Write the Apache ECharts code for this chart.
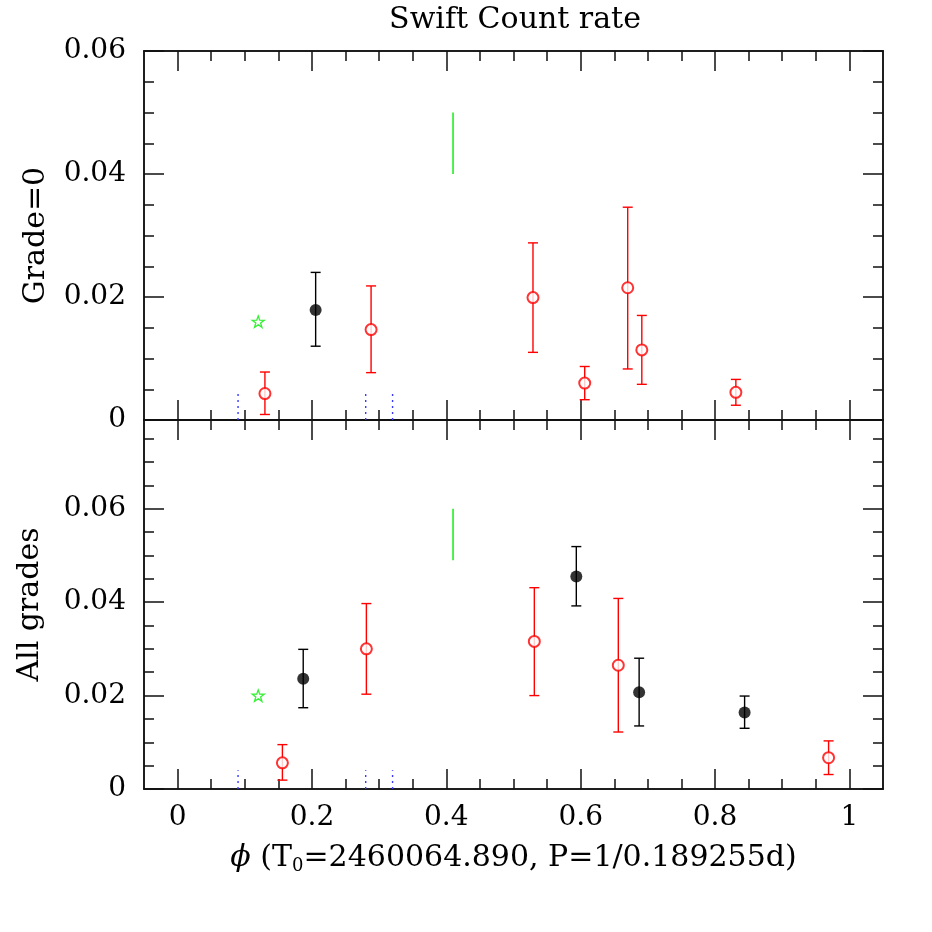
<!DOCTYPE html>
<html>
<head>
<meta charset="utf-8">
<script src="https://cdn.jsdelivr.net/npm/echarts@6.0.0/dist/echarts.min.js"></script>
<style>html,body{margin:0;padding:0;background:#fff;}#c{width:932px;height:932px;}</style>
</head>
<body>
<div id="c"></div>
<script>
// ---------------- data ----------------
const xMajorTicks = [0, 0.2, 0.4, 0.6, 0.8, 1];
const xMinorTicks = [0, 0.05, 0.1, 0.15, 0.2, 0.25, 0.3, 0.35, 0.4, 0.45, 0.5, 0.55, 0.6, 0.65, 0.7, 0.75, 0.8, 0.85, 0.9, 0.95, 1];
const yMajorTicks = [0, 0.02, 0.04, 0.06];
const yMinorTicksTop = [0, 0.005, 0.01, 0.015, 0.02, 0.025, 0.03, 0.035, 0.04, 0.045, 0.05, 0.055, 0.06];
const yMinorTicksBot = [0, 0.005, 0.01, 0.015, 0.02, 0.025, 0.03, 0.035, 0.04, 0.045, 0.05, 0.055, 0.06, 0.065, 0.07, 0.075];

// Top panel (Grade=0)
const g0RedX  = [0.130, 0.288, 0.529, 0.606, 0.670, 0.691, 0.831];
const g0RedY  = [0.0043, 0.0147, 0.0199, 0.0060, 0.0215, 0.0114, 0.0045];
const g0RedLo = [0.0009, 0.0077, 0.0110, 0.0033, 0.0083, 0.0058, 0.0024];
const g0RedHi = [0.0078, 0.0218, 0.0288, 0.0087, 0.0346, 0.0170, 0.0066];
const g0BlkX  = [0.2055];
const g0BlkY  = [0.0179];
const g0BlkLo = [0.0120];
const g0BlkHi = [0.0240];
const g0Star  = [0.12, 0.016];
const g0Green = [0.41, 0.040, 0.050];
const g0BlueX = [0.09, 0.28, 0.32];
const g0BlueH = 0.0043;

// Bottom panel (All grades)
const allRedX  = [0.156, 0.281, 0.531, 0.656, 0.969];
const allRedY  = [0.0056, 0.0300, 0.0316, 0.0265, 0.0067];
const allRedLo = [0.0019, 0.0203, 0.0200, 0.0122, 0.0031];
const allRedHi = [0.0095, 0.0397, 0.0431, 0.0408, 0.0103];
const allBlkX  = [0.187, 0.5935, 0.687, 0.844];
const allBlkY  = [0.0236, 0.0455, 0.0207, 0.0164];
const allBlkLo = [0.0174, 0.0392, 0.0135, 0.0130];
const allBlkHi = [0.0299, 0.0519, 0.0280, 0.0199];
const allStar  = [0.12, 0.020];
const allGreen = [0.41, 0.049, 0.060];
const allBlueX = [0.09, 0.28, 0.32];
const allBlueH = 0.0040;

const X_MIN = -0.05, X_MAX = 1.05;
const Y0_MAX = 0.06, Y1_MAX = 0.079;

// ---------------- styles ----------------
const FONT = 'DejaVu Serif';
const AX = '#111';
const AXW = 1.5;
const RED = '#ff0000', BLK = '#000000', GRN = '#00ee00', BLU = '#3a3aff';

function xAx(grid, pos, ticks, len, extra) {
  return Object.assign({
    type: 'value', gridIndex: grid, position: pos, min: X_MIN, max: X_MAX,
    axisLine: { show: true, onZero: false, lineStyle: { color: AX, width: AXW } },
    axisTick: { show: true, inside: true, length: len, customValues: ticks, lineStyle: { color: AX, width: AXW } },
    axisLabel: { show: false },
    splitLine: { show: false }
  }, extra || {});
}
function yAx(grid, pos, max, ticks, len, extra) {
  return Object.assign({
    type: 'value', gridIndex: grid, position: pos, min: 0, max: max,
    axisLine: { show: true, onZero: false, lineStyle: { color: AX, width: AXW } },
    axisTick: { show: true, inside: true, length: len, customValues: ticks, lineStyle: { color: AX, width: AXW } },
    axisLabel: { show: false },
    splitLine: { show: false }
  }, extra || {});
}

const xAxes = [
  xAx(0, 'bottom', xMinorTicks, 10),
  xAx(0, 'bottom', xMajorTicks, 20),
  xAx(0, 'top', xMinorTicks, 10),
  xAx(0, 'top', xMajorTicks, 20),
  xAx(1, 'bottom', xMinorTicks, 10),
  xAx(1, 'bottom', xMajorTicks, 20, {
    axisLabel: { show: true, customValues: xMajorTicks, margin: 15, fontFamily: FONT, fontSize: 28, color: '#000' },
    name: '{phi|ϕ} (T{sub|0}=2460064.890, P=1/0.189255d)',
    nameLocation: 'middle', nameGap: 52,
    nameTextStyle: { fontFamily: FONT, fontSize: 30, color: '#000', lineHeight: 34,
      rich: {
        phi: { fontFamily: FONT, fontSize: 30, fontStyle: 'italic', color: '#000', lineHeight: 34 },
        sub: { fontFamily: FONT, fontSize: 18, color: '#000', lineHeight: 14, verticalAlign: 'bottom' }
      } }
  }),
  xAx(1, 'top', xMinorTicks, 10),
  xAx(1, 'top', xMajorTicks, 20)
];

const yLabel = { show: true, customValues: yMajorTicks, margin: 18, fontFamily: FONT, fontSize: 28, color: '#000',
  formatter: v => (v === 0 ? '0' : v.toFixed(2)) };

const yAxes = [
  yAx(0, 'left', Y0_MAX, yMinorTicksTop, 10),
  yAx(0, 'left', Y0_MAX, yMajorTicks, 20, {
    axisLabel: yLabel,
    name: 'Grade=0', nameLocation: 'middle', nameGap: 93, nameRotate: 90,
    nameTextStyle: { fontFamily: FONT, fontSize: 30, color: '#000' }
  }),
  yAx(0, 'right', Y0_MAX, yMinorTicksTop, 10),
  yAx(0, 'right', Y0_MAX, yMajorTicks, 20),
  yAx(1, 'left', Y1_MAX, yMinorTicksBot, 10),
  yAx(1, 'left', Y1_MAX, yMajorTicks, 20, {
    axisLabel: yLabel,
    name: 'All grades', nameLocation: 'middle', nameGap: 99, nameRotate: 90,
    nameTextStyle: { fontFamily: FONT, fontSize: 30, color: '#000' }
  }),
  yAx(1, 'right', Y1_MAX, yMinorTicksBot, 10),
  yAx(1, 'right', Y1_MAX, yMajorTicks, 20)
];

// ---------------- series helpers ----------------
function errBars(xs, lo, hi, color, xi, yi) {
  return {
    type: 'custom', xAxisIndex: xi, yAxisIndex: yi, z: 3, silent: true,
    data: xs.map((x, i) => [x, lo[i], hi[i]]),
    renderItem: function (params, api) {
      const p1 = api.coord([api.value(0), api.value(1)]);
      const p2 = api.coord([api.value(0), api.value(2)]);
      const hw = 5;
      const st = { stroke: color, lineWidth: 1.4 };
      return { type: 'group', children: [
        { type: 'line', shape: { x1: p1[0], y1: p1[1], x2: p2[0], y2: p2[1] }, style: st },
        { type: 'line', shape: { x1: p1[0] - hw, y1: p1[1], x2: p1[0] + hw, y2: p1[1] }, style: st },
        { type: 'line', shape: { x1: p2[0] - hw, y1: p2[1], x2: p2[0] + hw, y2: p2[1] }, style: st }
      ] };
    }
  };
}
function points(xs, ys, filled, color, xi, yi) {
  return {
    type: 'scatter', xAxisIndex: xi, yAxisIndex: yi, z: 5, silent: true,
    symbol: filled ? 'circle' : 'emptyCircle', symbolSize: filled ? 12 : 11,
    itemStyle: filled ? { color: color } : { color: color, borderColor: color, borderWidth: 1.4 },
    data: xs.map((x, i) => [x, ys[i]])
  };
}
const STAR = 'path://M0,-10 L2.35,-3.24 L9.51,-3.09 L3.8,1.24 L5.88,8.09 L0,4 L-5.88,8.09 L-3.8,1.24 L-9.51,-3.09 L-2.35,-3.24 Z';
function star(pt, xi, yi) {
  return {
    type: 'scatter', xAxisIndex: xi, yAxisIndex: yi, z: 5, silent: true,
    symbol: STAR, symbolSize: 12, symbolKeepAspect: true,
    itemStyle: { color: 'rgba(255,255,255,0)', borderColor: GRN, borderWidth: 1.3 },
    data: [pt]
  };
}
function vline(data, color, dash, xi, yi) {
  return {
    type: 'custom', xAxisIndex: xi, yAxisIndex: yi, z: 2, silent: true,
    data: data,
    renderItem: function (params, api) {
      const p1 = api.coord([api.value(0), api.value(1)]);
      const p2 = api.coord([api.value(0), api.value(2)]);
      return { type: 'line', shape: { x1: p1[0], y1: p1[1], x2: p2[0], y2: p2[1] },
        style: { stroke: color, lineWidth: 1.4, lineDash: dash } };
    }
  };
}

const series = [
  // top panel
  vline(g0BlueX.map(x => [x, 0, g0BlueH]), BLU, [2, 4], 0, 0),
  vline([g0Green], GRN, null, 0, 0),
  errBars(g0RedX, g0RedLo, g0RedHi, RED, 0, 0),
  errBars(g0BlkX, g0BlkLo, g0BlkHi, BLK, 0, 0),
  points(g0RedX, g0RedY, false, RED, 0, 0),
  points(g0BlkX, g0BlkY, true, BLK, 0, 0),
  star(g0Star, 0, 0),
  // bottom panel
  vline(allBlueX.map(x => [x, 0, allBlueH]), BLU, [2, 4], 4, 4),
  vline([allGreen], GRN, null, 4, 4),
  errBars(allRedX, allRedLo, allRedHi, RED, 4, 4),
  errBars(allBlkX, allBlkLo, allBlkHi, BLK, 4, 4),
  points(allRedX, allRedY, false, RED, 4, 4),
  points(allBlkX, allBlkY, true, BLK, 4, 4),
  star(allStar, 4, 4)
];

const chart = echarts.init(document.getElementById('c'), null, { renderer: 'canvas' });
chart.setOption({
  backgroundColor: '#fff',
  animation: false,
  title: { text: 'Swift Count rate', left: 510, top: 0, textAlign: 'center',
    textStyle: { fontFamily: FONT, fontSize: 30, fontWeight: 'normal', color: '#000' } },
  grid: [
    { left: 144, top: 51, width: 739, height: 369 },
    { left: 144, top: 420, width: 739, height: 369 }
  ],
  xAxis: xAxes,
  yAxis: yAxes,
  series: series
});
</script>
</body>
</html>
